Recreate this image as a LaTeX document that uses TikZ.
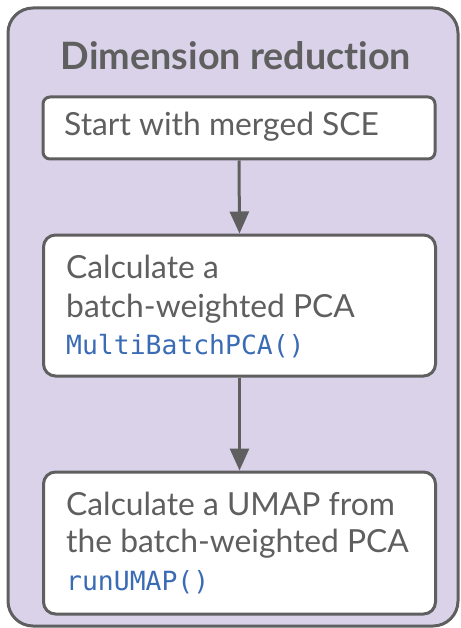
\documentclass[tikz,border=0pt]{standalone}
\usepackage{fontspec}
\setmainfont{Lato}[Ligatures=NoCommon]
\newfontfamily\codefont{DejaVu Sans Mono}
\usetikzlibrary{arrows.meta}
\definecolor{lav}{HTML}{D9D2E9}
\definecolor{edge}{HTML}{5F5F5F}
\definecolor{txt}{HTML}{5F5F5F}
\definecolor{code}{HTML}{3A6BB5}
\begin{document}
\begin{tikzpicture}[x=1pt,y=-1pt,
  outer/.style={draw=edge,fill=lav,line width=3pt,rounded corners=25pt},
  stepbox/.style={draw=edge,fill=white,line width=3pt,rounded corners=12pt,minimum width=392pt,inner sep=0pt},
  lbl/.style={anchor=base west,inner sep=0pt,text=txt,font=\fontsize{31.8}{36}\selectfont},
  codelbl/.style={anchor=base west,inner sep=0pt,text=code,font=\codefont\fontsize{26.4}{30}\selectfont},
  arr/.style={draw=edge,line width=3pt,-{Triangle[length=22pt,width=19pt]}}]
\useasboundingbox (0,0) rectangle (460,628);
\draw[outer] (8,8) rectangle (458,626);
\node[anchor=base,inner sep=0pt,text=txt,font=\bfseries\fontsize{37.7}{42}\selectfont] (title) at (236,70) {Dimension reduction};
\node[stepbox,minimum height=62pt,rounded corners=7pt] (b1) at (239,128) {};
\node[stepbox,minimum height=141pt] (b2) at (239.5,305.5) {};
\node[stepbox,minimum height=142pt] (b3) at (239.5,543) {};
\node[lbl] (t1) at (64,136) {Start with merged SCE};
\node[lbl] (t2a) at (66,278) {Calculate a};
\node[lbl] (t2b) at (66,317) {batch-weighted PCA};
\node[codelbl] (t2c) at (66,354) {MultiBatchPCA()};
\node[lbl] (t3a) at (66,515) {Calculate a UMAP from};
\node[lbl] (t3b) at (66,552) {the batch-weighted PCA};
\node[codelbl] (t3c) at (66,590) {runUMAP()};
\draw[arr] (b1.south) -- (b2.north);
\draw[arr] (b2.south) -- (b3.north);
\end{tikzpicture}
\end{document}
